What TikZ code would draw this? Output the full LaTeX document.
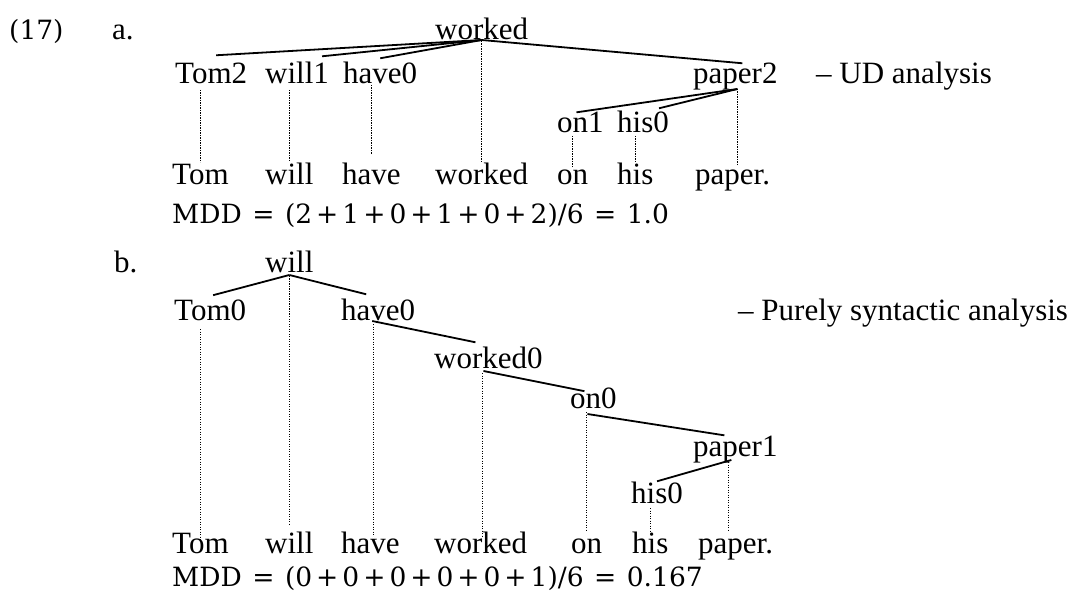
\documentclass[tikz,border=0pt]{standalone}
\usepackage{fontspec}
\setmainfont{Liberation Serif}
\newfontfamily\mddfont{DejaVu Serif}
\usepackage{tikz}

\newcommand{\eqsp}{\hspace{10.5pt}} % space round =
\newcommand{\plsp}{\hspace{4pt}}    % space round +

\begin{document}
\begin{tikzpicture}[x=1pt, y=-1pt,
    word/.style={anchor=base west, inner sep=0pt, font=\fontsize{31}{36}\selectfont},
    calc/.style={anchor=base west, inner sep=0pt, font=\mddfont\fontsize{26.5}{31}\selectfont},
    arc/.style={line width=1.8pt},
    proj/.style={line width=1.1pt, dash pattern=on 1.1pt off 1.4pt}]
    \useasboundingbox (0,0) rectangle (1083,593);
    % (17a) UD analysis
    \node [calc] (exno)    at (9,40)    {(17)};           % example number
    \node [word] (aLabel)  at (112,40)  {a.};
    \node [word] (aWorked) at (435,40)  {worked};         % root
    \node [word] (aTom2)   at (175,84)  {Tom2};
    \node [word] (aWill1)  at (265,84)  {will1};
    \node [word] (aHave0)  at (343,84)  {have0};
    \node [word] (aPaper2) at (693,84)  {paper2};
    \node [word] (aNote)   at (816,84)  {-- UD analysis};
    \node [word] (aOn1)    at (557,133) {on1};
    \node [word] (aHis0)   at (617,133) {his0};
    \node [word] (aTom)    at (172,185) {Tom};            % the sentence
    \node [word] (aWill)   at (265,185) {will};
    \node [word] (aHave)   at (342,185) {have};
    \node [word] (aWrk)    at (435,185) {worked};
    \node [word] (aOn)     at (557,185) {on};
    \node [word] (aHis)    at (617,185) {his};
    \node [word] (aPaper)  at (695,185) {paper.};
    \node [calc] (aMDD)    at (172,224) {MDD\eqsp=\eqsp(2\plsp+\plsp1\plsp+\plsp0\plsp+\plsp1\plsp+\plsp0\plsp+\plsp2)/6\eqsp=\eqsp1.0};
    \draw [arc] (aWorked.base) -- ([xshift=5,yshift=8]aTom2.north);    % worked -> Tom
    \draw [arc] (aWorked.base) -- ([xshift=25,yshift=6]aWill1.north);  % worked -> will
    \draw [arc] (aWorked.base) -- ([yshift=4]aHave0.north);            % worked -> have
    \draw [arc] (aWorked.base) -- ([xshift=7]aPaper2.north);           % worked -> paper
    \draw [arc] ([xshift=2,yshift=-5]aPaper2.base) -- ([xshift=-4]aOn1.north);
    \draw [arc] ([xshift=2,yshift=-5]aPaper2.base) -- ([xshift=16,yshift=3]aHis0.north);
    \draw [proj] ([yshift=-6]aTom2.base -| aTom.north) -- ([yshift=2]aTom.north);
    \draw [proj] ([yshift=-6]aWill1.base -| aWill.north) -- ([yshift=3]aWill.north);
    \draw [proj] ([yshift=-1]aHave0.base -| aHave.north) -- ([yshift=9]aHave.north);
    \draw [proj] ([yshift=-1]aWorked.base -| aWrk.north) -- ([yshift=2]aWrk.north);
    \draw [proj] ([yshift=-3]aOn1.base -| aOn.north) -- ([yshift=4]aOn.north);
    \draw [proj] ([yshift=-3]aHis0.base -| aHis.north) -- ([yshift=1]aHis.north);
    \draw [proj] ([xshift=5,yshift=-5]aPaper2.base -| aPaper.north) -- ([xshift=5,yshift=6]aPaper.north);
    % (17b) purely syntactic analysis
    \node [word] (bLabel)   at (114,273) {b.};
    \node [word] (bWill)    at (265,273) {will};          % root
    \node [word] (bTom0)    at (174,320) {Tom0};
    \node [word] (bHave0)   at (341,320) {have0};
    \node [word] (bNote)    at (738,320) {-- Purely syntactic analysis};
    \node [word] (bWorked0) at (434,368) {worked0};
    \node [word] (bOn0)     at (570,408) {on0};
    \node [word] (bPaper1)  at (693,456) {paper1};
    \node [word] (bHis0)    at (631,503) {his0};
    \node [word] (bTom)     at (172,553) {Tom};           % the sentence
    \node [word] (bWill2)   at (265,553) {will};
    \node [word] (bHave)    at (341,553) {have};
    \node [word] (bWrk)     at (434,553) {worked};
    \node [word] (bOn)      at (571,553) {on};
    \node [word] (bHis)     at (632,553) {his};
    \node [word] (bPaper)   at (698,553) {paper.};
    \node [calc] (bMDD)     at (172,586) {MDD\eqsp=\eqsp(0\plsp+\plsp0\plsp+\plsp0\plsp+\plsp0\plsp+\plsp0\plsp+\plsp1)/6\eqsp=\eqsp0.167};
    \draw [arc] ([yshift=-2]bWill.base) -- ([xshift=3,yshift=4]bTom0.north);
    \draw [arc] ([yshift=-2]bWill.base) -- ([xshift=-12,yshift=4]bHave0.north);
    \draw [arc] ([xshift=-6,yshift=-1]bHave0.base) -- ([xshift=-13,yshift=4]bWorked0.north);
    \draw [arc] ([xshift=-5,yshift=-3]bWorked0.base) -- ([xshift=-9,yshift=-4]bOn0.north);
    \draw [arc] ([xshift=-6,yshift=-6]bOn0.base) -- ([xshift=-11]bPaper1.north);
    \draw [arc] ([xshift=-4,yshift=-4]bPaper1.base) -- (bHis0.north);
    \draw [proj] ([yshift=-3]bWill.base -| bWill2.north) -- ([yshift=7]bWill2.north);
    \draw [proj] ([yshift=-9]bTom0.base -| bTom.north) -- ([yshift=-7]bTom.north);
    \draw [proj] ([xshift=3,yshift=-4]bHave0.base -| bHave.north) -- ([xshift=3,yshift=-3]bHave.north);
    \draw [proj] ([xshift=2,yshift=-5]bWorked0.base -| bWrk.north) -- ([xshift=2,yshift=-5]bWrk.north);
    \draw [proj] ([yshift=-4]bOn0.base -| bOn.north) -- ([yshift=7]bOn.north);
    \draw [proj] ([xshift=-7,yshift=-6]bPaper1.base -| bPaper.north) -- ([xshift=-7,yshift=7]bPaper.north);
    \draw [proj] ([yshift=-5]bHis0.base -| bHis.north) -- (bHis.north);
\end{tikzpicture}
\end{document}
